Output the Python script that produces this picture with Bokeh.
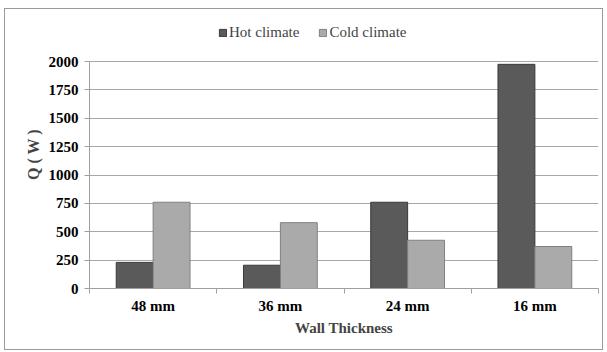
from bokeh.plotting import figure
from bokeh.models import ColumnDataSource, FixedTicker, LinearAxis, Legend, LegendItem, Range1d
from bokeh.embed import file_html
from bokeh.resources import INLINE

categories = ["48 mm", "36 mm", "24 mm", "16 mm"]
hot = [230, 205, 760, 1975]
cold = [760, 580, 425, 370]
y_ticks = [0, 250, 500, 750, 1000, 1250, 1500, 1750, 2000]

FONT = "Liberation Serif"
bw = 0.29
idx = list(range(len(categories)))
src = ColumnDataSource(dict(
    xh=[i + 0.5 - bw / 2 for i in idx],
    xc=[i + 0.5 + bw / 2 for i in idx],
    hot=hot, cold=cold,
))

# frame extends above the axis maximum to leave room for the legend
y_max = y_ticks[-1]
plot_px, extra_px = 227, 41
y_end = y_max * (plot_px + extra_px) / plot_px

p = figure(width=599, height=342, output_backend="svg", toolbar_location=None,
           x_range=Range1d(0, len(categories)), y_range=Range1d(0, y_end),
           x_axis_location=None, margin=(8, 0, 0, 4),
           min_border_left=84, min_border_right=6, min_border_top=52 - extra_px, min_border_bottom=63,
           styles={"border": "1px solid #9a9a9a", "box-sizing": "border-box"})
p.outline_line_color = None
p.xgrid.grid_line_color = None
p.ygrid.grid_line_color = "#a8a8a8"
p.ygrid.ticker = FixedTicker(ticks=y_ticks)

rh = p.vbar(x="xh", top="hot", width=bw, source=src, fill_color="#5a5a5a", line_color="#3a3a3a", line_width=1)
rc = p.vbar(x="xc", top="cold", width=bw, source=src, fill_color="#aaaaaa", line_color="#808080", line_width=1)

# y axis
ya = p.yaxis[0]
ya.ticker = FixedTicker(ticks=y_ticks)
ya.bounds = (0, y_max)
ya.axis_line_color = "#a0a0a0"
ya.major_tick_line_color = "#a0a0a0"
ya.major_tick_out = 5
ya.major_tick_in = 0
ya.minor_tick_line_color = None
ya.major_label_text_font = FONT
ya.major_label_text_font_style = "bold"
ya.major_label_text_font_size = "15px"
ya.major_label_text_color = "#000000"
ya.major_label_standoff = 6
ya.axis_label = "Q ( W )"
ya.axis_label_text_font = FONT
ya.axis_label_text_font_style = "bold"
ya.axis_label_text_font_size = "16px"
ya.axis_label_standoff = 4

# x axis: boundary ticks
xa1 = LinearAxis(ticker=FixedTicker(ticks=[0, 1, 2, 3, 4]),
                 major_label_overrides={i: "" for i in range(5)},
                 axis_line_color="#a0a0a0", major_tick_line_color="#a0a0a0",
                 major_tick_out=5, major_tick_in=0, minor_tick_line_color=None,
                 major_label_text_font_size="0px", major_label_standoff=0)
p.add_layout(xa1, "below")

# x axis: category labels
xa2 = LinearAxis(ticker=FixedTicker(ticks=[i + 0.5 for i in idx]),
                 major_label_overrides={i + 0.5: c for i, c in zip(idx, categories)},
                 axis_line_color=None, major_tick_line_color=None, minor_tick_line_color=None,
                 major_label_text_font=FONT, major_label_text_font_style="bold",
                 major_label_text_font_size="15px", major_label_text_color="#000000",
                 major_label_standoff=-2,
                 axis_label="Wall Thickness", axis_label_text_font=FONT,
                 axis_label_text_font_style="bold", axis_label_text_font_size="15px",
                 axis_label_standoff=3)
p.add_layout(xa2, "below")

legend = Legend(items=[LegendItem(label="Hot climate", renderers=[rh]),
                       LegendItem(label="Cold climate", renderers=[rc])],
                orientation="horizontal", location=(129, 247),
                label_text_font=FONT, label_text_font_size="15px",
                glyph_width=9, glyph_height=9, spacing=19, label_standoff=2,
                border_line_color=None, background_fill_alpha=0, padding=0, margin=0)
p.add_layout(legend, "center")

open("out.html", "w").write(file_html(p, INLINE))
